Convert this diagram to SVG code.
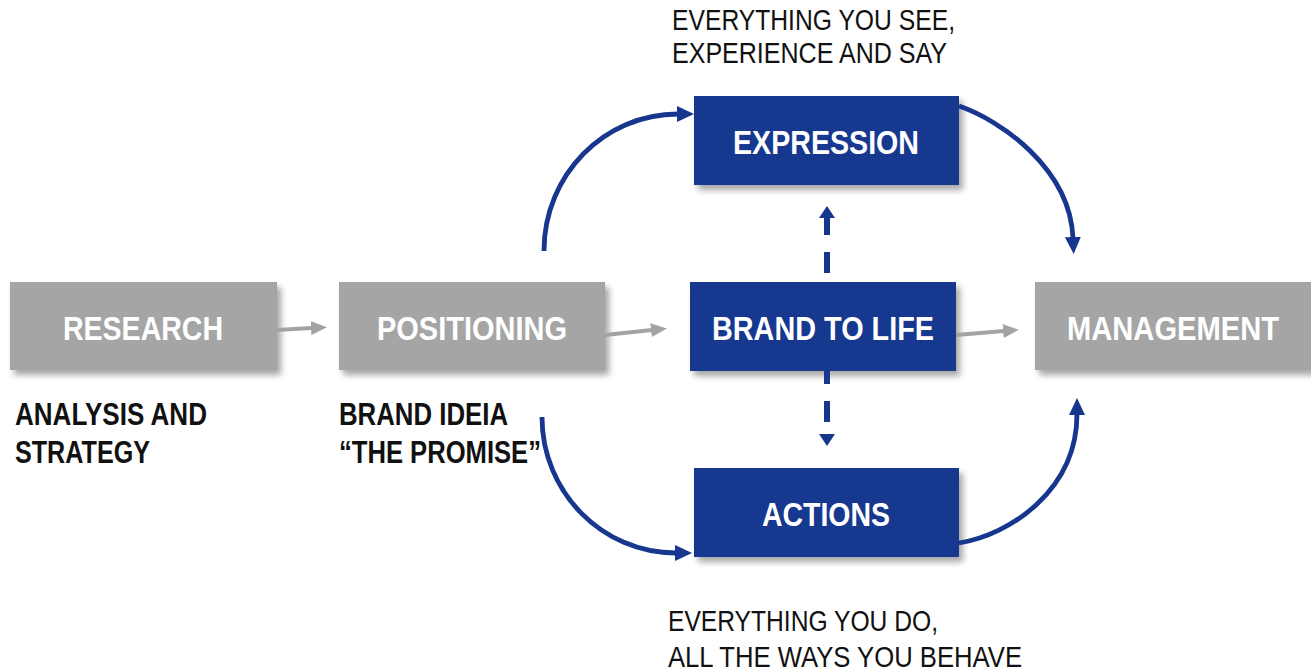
<svg xmlns="http://www.w3.org/2000/svg" width="1311" height="671" viewBox="0 0 1311 671">
  <defs>
    <filter id="shadow" x="-10%" y="-20%" width="125%" height="150%">
      <feDropShadow dx="4" dy="5" stdDeviation="3" flood-color="#000" flood-opacity="0.35"/>
    </filter>
    <marker id="headGray" markerUnits="userSpaceOnUse" markerWidth="16" markerHeight="14" refX="1" refY="7" orient="auto">
      <path d="M0,0 L16,7 L0,14 z" fill="#a3a3a3"/>
    </marker>
    <marker id="headBlue" markerUnits="userSpaceOnUse" markerWidth="17" markerHeight="16" refX="1" refY="8" orient="auto">
      <path d="M0,0 L17,8 L0,16 z" fill="#17378f"/>
    </marker>
    <style>
      .grey { fill: #a5a5a5; filter: url(#shadow); }
      .blue { fill: #17378f; filter: url(#shadow); }
      .nodeText { font-family: "Liberation Sans", Arial, sans-serif; font-weight: bold; font-size: 33px; fill: #fff; text-anchor: middle; }
      .note { font-family: "Liberation Sans", Arial, sans-serif; font-size: 30px; fill: #111; }
      .noteBold { font-family: "Liberation Sans", Arial, sans-serif; font-weight: bold; font-size: 31px; fill: #111; }
      .flowGray { fill: none; stroke: #a3a3a3; stroke-width: 4; marker-end: url(#headGray); }
      .flowBlue { fill: none; stroke: #17378f; stroke-width: 4.8; marker-end: url(#headBlue); }
      .dash { stroke: #17378f; stroke-width: 6; }
    </style>
  </defs>

  <rect width="1311" height="671" fill="#fff"/>

  <!-- nodes -->
  <g id="research">
    <rect class="grey" x="10" y="282" width="267" height="88"/>
    <text class="nodeText" x="143" y="340" textLength="160" lengthAdjust="spacingAndGlyphs">RESEARCH</text>
  </g>
  <g id="positioning">
    <rect class="grey" x="339" y="282" width="266" height="88"/>
    <text class="nodeText" x="472" y="340" textLength="190" lengthAdjust="spacingAndGlyphs">POSITIONING</text>
  </g>
  <g id="brand-to-life">
    <rect class="blue" x="690" y="282" width="266" height="89"/>
    <text class="nodeText" x="823" y="340" textLength="222" lengthAdjust="spacingAndGlyphs">BRAND TO LIFE</text>
  </g>
  <g id="expression">
    <rect class="blue" x="694" y="96" width="265" height="89"/>
    <text class="nodeText" x="826" y="154" textLength="186" lengthAdjust="spacingAndGlyphs">EXPRESSION</text>
  </g>
  <g id="actions">
    <rect class="blue" x="694" y="468" width="265" height="89"/>
    <text class="nodeText" x="826" y="526" textLength="128" lengthAdjust="spacingAndGlyphs">ACTIONS</text>
  </g>
  <g id="management">
    <rect class="grey" x="1035" y="282" width="280" height="88"/>
    <text class="nodeText" x="1173" y="340" textLength="212" lengthAdjust="spacingAndGlyphs">MANAGEMENT</text>
  </g>

  <!-- captions -->
  <g id="caption-expression">
    <text class="note" x="672" y="30" textLength="283" lengthAdjust="spacingAndGlyphs">EVERYTHING YOU SEE,</text>
    <text class="note" x="672" y="63" textLength="275" lengthAdjust="spacingAndGlyphs">EXPERIENCE AND SAY</text>
  </g>
  <g id="caption-actions">
    <text class="note" x="668" y="631" textLength="270" lengthAdjust="spacingAndGlyphs">EVERYTHING YOU DO,</text>
    <text class="note" x="668" y="667" textLength="354" lengthAdjust="spacingAndGlyphs">ALL THE WAYS YOU BEHAVE</text>
  </g>
  <g id="caption-research">
    <text class="noteBold" x="15" y="425" textLength="192" lengthAdjust="spacingAndGlyphs">ANALYSIS AND</text>
    <text class="noteBold" x="15" y="463" textLength="135" lengthAdjust="spacingAndGlyphs">STRATEGY</text>
  </g>
  <g id="caption-positioning">
    <text class="noteBold" x="339" y="425" textLength="169" lengthAdjust="spacingAndGlyphs">BRAND IDEIA</text>
    <text class="noteBold" x="339" y="463" textLength="202" lengthAdjust="spacingAndGlyphs">“THE PROMISE”</text>
  </g>

  <!-- connectors -->
  <g id="connectors">
    <path class="flowGray" d="M277,330 L312,328"/>
    <path class="flowGray" d="M605,335 L652,330"/>
    <path class="flowGray" d="M956,335 L1004,331"/>

    <path class="flowBlue" d="M544,251 C544,175 604,114 678,114"/>
    <path class="flowBlue" d="M959,106 C1000,120 1070,168 1073,238"/>
    <path class="flowBlue" d="M542,417 C542,492 602,553 676,553"/>
    <path class="flowBlue" d="M959,543 C1010,535 1077,490 1077,414"/>

    <line class="dash" x1="827" y1="273" x2="827" y2="252"/>
    <line class="dash" x1="827" y1="235" x2="827" y2="217"/>
    <path d="M819,218 L835,218 L827,206 z" fill="#17378f"/>
    <line class="dash" x1="827" y1="371" x2="827" y2="384"/>
    <line class="dash" x1="827" y1="401" x2="827" y2="422"/>
    <path d="M819,434 L835,434 L827,446 z" fill="#17378f"/>
  </g>
</svg>
